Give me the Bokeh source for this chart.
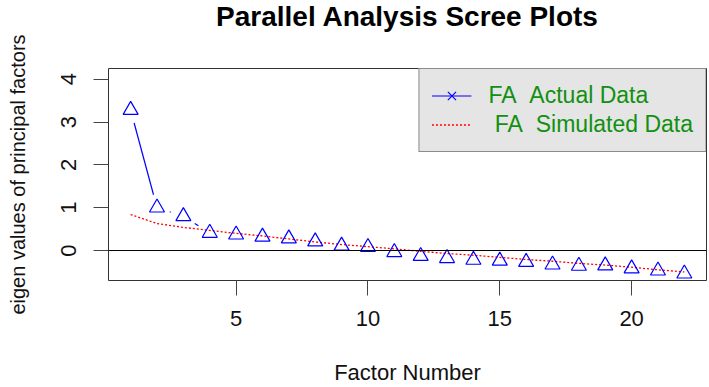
import math

from bokeh.embed import file_html
from bokeh.models import FixedTicker, Legend, LegendItem, Range1d, Span
from bokeh.plotting import figure
from bokeh.resources import INLINE

# Eigenvalues from the parallel analysis (factor solution)
factors = list(range(1, 23))
fa_actual = [3.28, 1.00, 0.80, 0.41, 0.37, 0.32, 0.28, 0.21, 0.11, 0.08, -0.04,
             -0.13, -0.18, -0.22, -0.24, -0.27, -0.33, -0.36, -0.35, -0.42, -0.47, -0.54]
fa_simulated = [0.84, 0.63, 0.54, 0.47, 0.40, 0.34, 0.27, 0.20, 0.14, 0.09, 0.04,
                -0.02, -0.07, -0.11, -0.16, -0.21, -0.25, -0.30, -0.34, -0.39, -0.45, -0.50]
x_ticks = [5, 10, 15, 20]
y_ticks = [0, 1, 2, 3, 4]

FONT = "Liberation Sans"
FRAME_W, FRAME_H = 598, 212
X_RANGE = (0.16, 22.84)
Y_RANGE = (-0.70, 4.25)
BLUE = "#0000FF"
RED = "#FF0000"
GREEN = "#119011"

p = figure(
    frame_width=FRAME_W, frame_height=FRAME_H,
    x_range=Range1d(*X_RANGE), y_range=Range1d(*Y_RANGE),
    min_border_left=108, min_border_right=3, min_border_top=68, min_border_bottom=107,
    output_backend="svg", toolbar_location=None,
    # trailing line break leaves an empty line between the title and the plot
    title="Parallel Analysis Scree Plots\n",
)
p.background_fill_color = "white"
p.border_fill_color = "white"
p.outline_line_color = "#333333"
p.outline_line_width = 1
p.grid.visible = False

p.title.align = "center"
p.title.vertical_align = "top"
p.title.standoff = 0
p.title.text_line_height = 1.12
p.title.text_font = FONT
p.title.text_font_size = "28px"
p.title.text_font_style = "bold"
p.title.text_color = "black"

x_axis = p.below[0]
y_axis = p.left[0]

for ax in (x_axis, y_axis):
    ax.axis_line_color = None
    ax.major_tick_out = 15
    ax.major_tick_in = 0
    ax.minor_tick_out = 0
    ax.minor_tick_in = 0
    ax.major_tick_line_color = "#444444"
    ax.major_label_text_font = FONT
    ax.major_label_text_font_size = "22px"
    ax.major_label_text_color = "#111111"
    ax.axis_label_text_font = FONT
    ax.axis_label_text_font_style = "normal"
    ax.axis_label_text_color = "#111111"

x_axis.ticker = FixedTicker(ticks=x_ticks)
x_axis.major_label_standoff = 15
x_axis.axis_label = "Factor Number"
x_axis.axis_label_text_font_size = "22px"
x_axis.axis_label_standoff = 31

y_axis.ticker = FixedTicker(ticks=y_ticks)
y_axis.major_label_orientation = "parallel"
y_axis.major_label_standoff = 17
y_axis.axis_label = "eigen values of principal factors"
y_axis.axis_label_text_font_size = "20px"
y_axis.axis_label_standoff = 30

# Horizontal reference at zero
p.add_layout(Span(location=0, dimension="width", line_color="black", line_width=1))

# Connecting lines for the actual eigenvalues, broken around each point
kx = FRAME_W / (X_RANGE[1] - X_RANGE[0])
ky = FRAME_H / (Y_RANGE[1] - Y_RANGE[0])
gap_px = 13.4
seg_x0, seg_y0, seg_x1, seg_y1 = [], [], [], []
for i in range(len(factors) - 1):
    dx = factors[i + 1] - factors[i]
    dy = fa_actual[i + 1] - fa_actual[i]
    length = math.hypot(dx * kx, dy * ky)
    if length > 2 * gap_px:
        f = gap_px / length
        seg_x0.append(factors[i] + dx * f)
        seg_y0.append(fa_actual[i] + dy * f)
        seg_x1.append(factors[i + 1] - dx * f)
        seg_y1.append(fa_actual[i + 1] - dy * f)
p.segment(seg_x0, seg_y0, seg_x1, seg_y1, line_color=BLUE, line_width=1.2)

r_sim = p.line(factors, fa_simulated, line_color=RED, line_width=1.3, line_dash="2 2")

p.scatter(factors, fa_actual, marker="triangle", size=15, fill_color=None,
          line_color=BLUE, line_width=1.2)

# Legend glyphs for the actual-data entry (line with a cross); nothing drawn in the frame
nan = float("nan")
leg_line = p.line([nan], [nan], line_color=BLUE, line_width=1.2)
leg_cross = p.scatter([nan], [nan], marker="x", size=11, line_color=BLUE, line_width=1.2)

legend = Legend(
    items=[
        LegendItem(label="FA\u00a0\u00a0Actual Data", renderers=[leg_line, leg_cross]),
        LegendItem(label="\u00a0FA\u00a0\u00a0Simulated Data", renderers=[r_sim]),
    ],
    location="top_right",
    margin=0,
    padding=12,
    spacing=0,
    glyph_width=40,
    glyph_height=29,
    label_height=29,
    label_standoff=17,
    label_text_font=FONT,
    label_text_font_size="23px",
    label_text_color=GREEN,
    background_fill_color="#E5E5E5",
    background_fill_alpha=1.0,
    border_line_color="#333333",
    border_line_width=1,
)
p.add_layout(legend)

open("out.html", "w").write(file_html(p, INLINE))
